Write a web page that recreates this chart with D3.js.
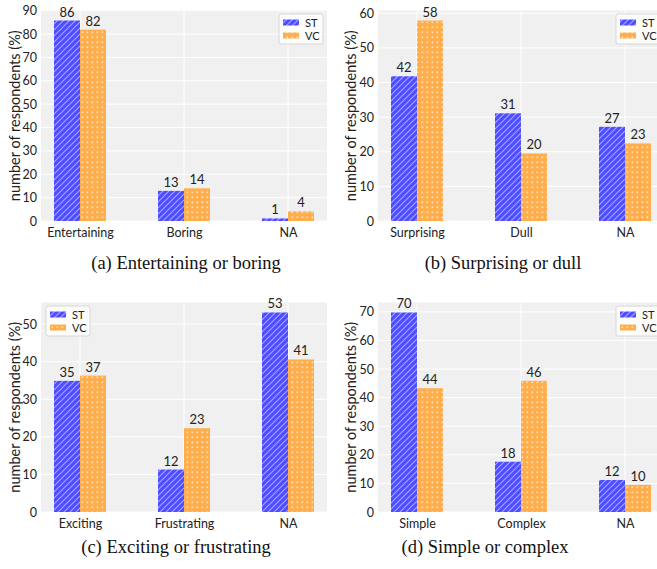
<!DOCTYPE html>
<html>
<head>
<meta charset="utf-8">
<script src="https://cdn.jsdelivr.net/npm/d3@7"></script>
<style>
  html, body { margin: 0; padding: 0; background: #fff; }
  svg { display: block; }
</style>
</head>
<body>
<svg id="chart" width="657" height="569"></svg>
<script>
// ---------- DATA ----------
const seriesNames = ["ST", "VC"];

const categoriesA = ["Entertaining", "Boring", "NA"];
const stA = [85.8, 12.9, 1.1];
const vcA = [81.9, 14.0, 4.1];
const stLabelsA = [86, 13, 1];
const vcLabelsA = [82, 14, 4];
const yTicksA = [0, 10, 20, 30, 40, 50, 60, 70, 80, 90];

const categoriesB = ["Surprising", "Dull", "NA"];
const stB = [41.8, 31.1, 27.2];
const vcB = [57.9, 19.5, 22.4];
const stLabelsB = [42, 31, 27];
const vcLabelsB = [58, 20, 23];
const yTicksB = [0, 10, 20, 30, 40, 50, 60];

const categoriesC = ["Exciting", "Frustrating", "NA"];
const stC = [34.9, 11.3, 53.1];
const vcC = [36.3, 22.3, 40.6];
const stLabelsC = [35, 12, 53];
const vcLabelsC = [37, 23, 41];
const yTicksC = [0, 10, 20, 30, 40, 50];

const categoriesD = ["Simple", "Complex", "NA"];
const stD = [69.8, 17.6, 11.2];
const vcD = [43.3, 45.9, 9.5];
const stLabelsD = [70, 18, 12];
const vcLabelsD = [44, 46, 10];
const yTicksD = [0, 10, 20, 30, 40, 50, 60, 70];

const captions = ["(a) Entertaining or boring", "(b) Surprising or dull",
                  "(c) Exciting or frustrating", "(d) Simple or complex"];
const yAxisTitle = "number of respondents (%)";

// ---------- STYLE / LAYOUT ----------
const svg = d3.select("#chart");
const sansFont = "Lato, 'Open Sans', 'DejaVu Sans', sans-serif";
const serifFont = "'Liberation Serif', 'DejaVu Serif', serif";
const stColor = "#4d4dff";
const vcColor = "#ffae4d";

const defs = svg.append("defs");
const hatch = defs.append("pattern").attr("id", "hatchST")
  .attr("patternUnits", "userSpaceOnUse").attr("width", 6).attr("height", 6);
hatch.append("rect").attr("width", 6).attr("height", 6).attr("fill", stColor);
hatch.append("path").attr("d", "M-1,1 L1,-1 M0,6 L6,0 M5,7 L7,5")
  .attr("stroke", "#a3a3ff").attr("stroke-width", 1.2);

const dots = defs.append("pattern").attr("id", "dotsVC")
  .attr("patternUnits", "userSpaceOnUse").attr("width", 5).attr("height", 5);
dots.append("rect").attr("width", 5).attr("height", 5).attr("fill", vcColor);
dots.append("rect").attr("x", 1.5).attr("y", 1.5).attr("width", 1.6).attr("height", 1.6)
  .attr("fill", "#ffe3bd");

const panels = [
  { cats: categoriesA, st: stA, vc: vcA, stL: stLabelsA, vcL: vcLabelsA, ticks: yTicksA,
    left: 41, right: 327, top: 10.5, bottom: 221, cap: captions[0], capX: 186, capY: 269,
    ylabX: 14, legend: "right" },
  { cats: categoriesB, st: stB, vc: vcB, stL: stLabelsB, vcL: vcLabelsB, ticks: yTicksB,
    left: 378, right: 664, top: 10.5, bottom: 221, cap: captions[1], capX: 503, capY: 269,
    ylabX: 350, legend: "right" },
  { cats: categoriesC, st: stC, vc: vcC, stL: stLabelsC, vcL: vcLabelsC, ticks: yTicksC,
    left: 41, right: 327, top: 302.5, bottom: 512, cap: captions[2], capX: 176, capY: 553,
    ylabX: 14, legend: "left" },
  { cats: categoriesD, st: stD, vc: vcD, stL: stLabelsD, vcL: vcLabelsD, ticks: yTicksD,
    left: 378, right: 664, top: 302.5, bottom: 512, cap: captions[3], capX: 485, capY: 553,
    ylabX: 350, legend: "right" }
];

const barW = 0.25;

panels.forEach((p, pi) => {
  const g = svg.append("g");
  const clipId = "clip" + pi;
  defs.append("clipPath").attr("id", clipId).append("rect")
    .attr("x", p.left).attr("y", p.top).attr("width", p.right - p.left).attr("height", p.bottom - p.top);

  const x = d3.scaleLinear().domain([-0.375, p.cats.length - 1 + 0.375]).range([p.left, p.right]);
  const maxV = d3.max(p.st.concat(p.vc));
  const y = d3.scaleLinear().domain([0, maxV * 1.05]).range([p.bottom, p.top]);

  // background
  g.append("rect").attr("x", p.left).attr("y", p.top)
    .attr("width", p.right - p.left).attr("height", p.bottom - p.top).attr("fill", "#f0f0f0");

  // grid
  const grid = g.append("g").attr("clip-path", `url(#${clipId})`);
  grid.selectAll("line.h").data(p.ticks).join("line")
    .attr("x1", p.left).attr("x2", p.right)
    .attr("y1", d => y(d)).attr("y2", d => y(d))
    .attr("stroke", "#ffffff").attr("stroke-width", 1);
  grid.selectAll("line.v").data(p.cats.map((c, i) => i)).join("line")
    .attr("x1", d => x(d)).attr("x2", d => x(d))
    .attr("y1", p.top).attr("y2", p.bottom)
    .attr("stroke", "#ffffff").attr("stroke-width", 1);

  // y axis
  const yAxis = d3.axisLeft(y).tickValues(p.ticks).tickSize(0).tickPadding(4);
  const ya = g.append("g").attr("transform", `translate(${p.left},0)`).call(yAxis);
  ya.select(".domain").remove();
  ya.selectAll("text").attr("font-family", sansFont).attr("font-size", 12.5).attr("fill", "#222");

  // x axis
  const xAxis = d3.axisBottom(x).tickValues(p.cats.map((c, i) => i))
    .tickFormat(i => p.cats[i]).tickSize(0).tickPadding(7);
  const xa = g.append("g").attr("transform", `translate(0,${p.bottom})`).call(xAxis);
  xa.select(".domain").remove();
  xa.selectAll("text").attr("font-family", sansFont).attr("font-size", 12.5).attr("fill", "#222");

  // bars
  const bars = g.append("g").attr("clip-path", `url(#${clipId})`);
  const series = [
    { vals: p.st, labs: p.stL, off: -barW / 2, fill: "url(#hatchST)" },
    { vals: p.vc, labs: p.vcL, off: barW / 2, fill: "url(#dotsVC)" }
  ];
  series.forEach(s => {
    bars.selectAll(null).data(s.vals).join("rect")
      .attr("x", (d, i) => x(i + s.off - barW / 2))
      .attr("width", x(barW) - x(0))
      .attr("y", d => y(d))
      .attr("height", d => y(0) - y(d))
      .attr("fill", s.fill);
    g.selectAll(null).data(s.vals).join("text")
      .attr("x", (d, i) => x(i + s.off))
      .attr("y", d => y(d) - 4)
      .attr("text-anchor", "middle")
      .attr("font-family", sansFont).attr("font-size", 13).attr("fill", "#222")
      .text((d, i) => s.labs[i]);
  });

  // y label
  g.append("text")
    .attr("transform", `translate(${p.ylabX},${(p.top + p.bottom) / 2}) rotate(-90)`)
    .attr("text-anchor", "middle").attr("dominant-baseline", "central")
    .attr("font-family", sansFont).attr("font-size", 14.5).attr("fill", "#222")
    .text(yAxisTitle);

  // legend
  const lw = 44, lh = 30;
  const lx = p.legend === "right" ? p.right - lw - 4 : p.left + 5;
  const ly = p.top + 3.5;
  const lg = g.append("g");
  lg.append("rect").attr("x", lx).attr("y", ly).attr("width", lw).attr("height", lh)
    .attr("rx", 2).attr("fill", "rgba(255,255,255,0.8)").attr("stroke", "#d6d6d6").attr("stroke-width", 1);
  const lFills = ["url(#hatchST)", "url(#dotsVC)"];
  seriesNames.forEach((n, i) => {
    lg.append("rect").attr("x", lx + 4).attr("y", ly + 5.5 + i * 13).attr("width", 16).attr("height", 6)
      .attr("fill", lFills[i]);
    lg.append("text").attr("x", lx + 26).attr("y", ly + 8.5 + i * 13)
      .attr("dominant-baseline", "central")
      .attr("font-family", sansFont).attr("font-size", 11).attr("fill", "#222").text(n);
  });

  // caption
  svg.append("text").attr("x", p.capX).attr("y", p.capY).attr("text-anchor", "middle")
    .attr("font-family", serifFont).attr("font-size", 18.5).attr("fill", "#111")
    .text(p.cap);
});
</script>
</body>
</html>
